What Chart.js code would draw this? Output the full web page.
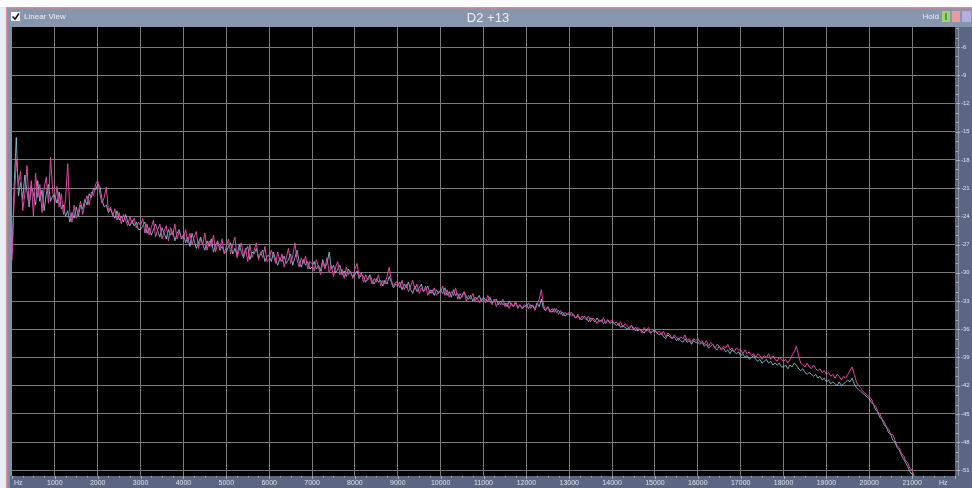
<!DOCTYPE html>
<html>
<head>
<meta charset="utf-8">
<script src="https://cdn.jsdelivr.net/npm/chart.js@4/dist/chart.umd.min.js"></script>
<style>
  html, body { margin: 0; padding: 0; background: #e4ebf3; overflow: hidden; }
  canvas { display: block; }
</style>
</head>
<body>
<canvas id="spectrum" width="972" height="488"></canvas>
<script>
// Frequency analysis: two channels, level in dB per 50 Hz FFT bin.
const TITLE = 'D2 +13';
const BIN_HZ = 50;
const X_TICKS = [1000, 2000, 3000, 4000, 5000, 6000, 7000, 8000, 9000, 10000,
                 11000, 12000, 13000, 14000, 15000, 16000, 17000, 18000, 19000, 20000, 21000];
const Y_TICKS = [-6, -9, -12, -15, -18, -21, -24, -27, -30, -33, -36, -39, -42, -45, -48, -51];

// Magenta channel (dB); one row per kHz, 20 bins each
const MAGENTA_DB = [
  -28.7, -22.4, -18.0, -20.6, -19.2, -23.4, -21.6, -18.6, -22.8, -20.2, -24.0, -19.4, -22.0, -20.6, -23.6, -21.0, -19.8, -22.6, -17.7, -21.4,
  -22.6, -20.8, -23.0, -21.6, -23.8, -22.2, -18.4, -23.6, -24.6, -22.8, -24.2, -23.4, -22.4, -23.8, -22.6, -21.8, -22.8, -21.4, -21.8, -20.6,
  -20.2, -21.6, -22.6, -22.0, -20.9, -23.4, -23.0, -24.0, -23.2, -24.4, -23.6, -24.8, -23.8, -24.4, -25.0, -24.0, -24.8, -24.2, -25.2, -24.6,
  -25.0, -24.2, -25.8, -24.8, -26.0, -25.2, -24.4, -26.2, -25.4, -24.8, -26.4, -25.6, -25.0, -26.6, -25.2, -26.0, -24.8, -26.4, -25.6, -26.2,
  -26.4, -25.4, -26.8, -25.8, -27.0, -26.2, -25.6, -27.4, -26.4, -27.0, -25.8, -27.6, -26.6, -27.2, -26.0, -27.8, -26.8, -27.4, -26.4, -28.0,
  -27.2, -26.4, -28.0, -27.0, -26.2, -28.4, -27.6, -26.8, -28.2, -27.4, -28.8, -27.0, -28.4, -27.6, -26.8, -28.6, -27.8, -28.4, -27.2, -28.8,
  -28.6, -27.6, -28.2, -29.0, -27.8, -28.8, -28.0, -29.4, -28.4, -27.4, -29.0, -28.2, -26.8, -28.6, -29.4, -28.4, -29.0, -28.2, -29.6, -28.8,
  -29.0, -29.8, -28.6, -29.4, -30.2, -28.8, -29.6, -28.4, -30.0, -29.2, -30.4, -29.4, -28.8, -30.2, -29.6, -30.6, -29.4, -30.2, -29.8, -30.6,
  -29.6, -29.0, -30.4, -30.0, -31.0, -30.2, -30.8, -30.4, -31.2, -30.6, -31.0, -30.2, -31.4, -30.8, -31.2, -30.4, -29.4, -30.8, -31.4, -31.0,
  -31.0, -31.6, -30.8, -31.8, -31.2, -32.0, -31.4, -30.8, -31.8, -31.2, -32.2, -31.6, -32.0, -31.4, -32.4, -31.8, -32.2, -31.6, -32.4, -32.0,
  -32.0, -31.4, -32.4, -31.8, -32.6, -32.0, -32.4, -31.6, -32.8, -32.2, -32.6, -32.0, -33.0, -32.4, -32.8, -32.2, -33.0, -32.6, -33.2, -32.8,
  -32.8, -33.2, -32.4, -33.0, -33.4, -32.8, -33.6, -33.0, -33.4, -32.8, -33.6, -33.2, -33.8, -33.2, -33.6, -33.0, -33.8, -33.4, -33.8, -33.4,
  -33.6, -33.2, -33.8, -33.4, -34.0, -33.4, -32.8, -31.8, -33.4, -34.0, -33.6, -34.2, -33.8, -34.2, -33.8, -34.4, -34.0, -34.6, -34.2, -34.4,
  -34.2, -34.6, -34.4, -34.8, -34.4, -35.0, -34.6, -34.8, -35.0, -34.6, -35.2, -34.8, -35.0, -35.4, -35.0, -35.2, -34.8, -35.4, -35.0, -35.2,
  -35.0, -35.4, -35.2, -35.6, -35.2, -35.8, -35.4, -35.6, -36.0, -35.6, -35.8, -36.2, -35.8, -36.0, -36.4, -35.8, -36.2, -35.8, -36.4, -36.2,
  -36.0, -36.4, -36.2, -36.6, -36.2, -36.8, -36.4, -36.6, -37.0, -36.6, -36.8, -37.2, -36.8, -37.0, -36.6, -37.2, -37.0, -37.4, -37.0, -37.2,
  -37.0, -37.4, -37.2, -37.6, -37.2, -37.8, -37.4, -37.6, -38.0, -37.6, -37.8, -38.2, -37.8, -38.0, -37.6, -38.2, -38.0, -38.4, -38.0, -38.2,
  -38.2, -38.6, -38.2, -38.6, -38.4, -38.8, -38.6, -39.0, -38.6, -38.8, -39.2, -38.8, -39.0, -38.6, -39.2, -38.8, -39.2, -39.4, -39.0, -39.2,
  -39.4, -39.2, -39.6, -39.2, -38.8, -38.4, -37.8, -38.8, -39.6, -39.8, -40.0, -39.6, -40.0, -40.2, -39.8, -40.2, -40.4, -40.2, -40.6, -40.4,
  -40.8, -40.6, -41.0, -40.8, -41.2, -40.8, -41.0, -41.4, -41.0, -41.2, -40.8, -40.4, -40.0, -40.8, -41.6, -42.0, -42.2, -42.6, -42.8, -43.0,
  -43.2, -43.4, -44.0, -44.2, -44.8, -45.0, -45.6, -45.8, -46.4, -46.6, -47.2, -47.2, -47.8, -48.4, -48.6, -49.2, -49.4, -50.0, -50.2, -50.8,
  -51.0, -51.6, -52.0, -52.6, -53.0, -53.6, -54.0, -54.6, -55.0, -55.6
];

// Cyan channel (dB); one row per kHz, 20 bins each
const CYAN_DB = [
  -28.0, -20.8, -15.6, -21.8, -20.4, -22.2, -19.6, -21.4, -23.0, -20.8, -21.6, -22.8, -20.2, -22.4, -21.2, -23.4, -21.6, -20.6, -22.4, -21.8,
  -21.8, -22.6, -21.4, -23.2, -22.8, -24.0, -23.4, -24.6, -23.6, -24.2, -23.0, -24.0, -22.8, -23.2, -22.2, -22.8, -21.6, -22.0, -21.0, -21.2,
  -20.6, -20.8, -22.2, -23.0, -22.8, -23.6, -23.2, -23.8, -24.2, -23.4, -24.4, -24.0, -24.6, -23.8, -24.6, -25.0, -24.4, -25.0, -24.6, -25.4,
  -25.4, -25.0, -24.6, -25.8, -25.2, -26.0, -25.4, -24.8, -25.6, -26.2, -25.2, -25.8, -26.4, -25.4, -26.0, -25.6, -26.6, -25.8, -25.4, -26.4,
  -26.0, -26.8, -26.2, -27.2, -25.8, -26.6, -27.4, -26.8, -26.2, -27.0, -27.6, -26.6, -27.2, -26.4, -27.8, -27.0, -26.6, -27.6, -27.2, -27.8,
  -27.8, -27.2, -26.8, -28.0, -27.4, -28.2, -27.0, -27.8, -28.4, -27.6, -27.2, -28.6, -27.8, -28.0, -27.4, -28.4, -28.0, -27.6, -28.8, -28.2,
  -28.2, -28.8, -27.8, -28.6, -29.2, -28.4, -28.8, -28.2, -29.0, -28.6, -28.0, -29.2, -28.4, -27.6, -28.8, -29.4, -28.6, -29.2, -28.8, -29.6,
  -29.4, -28.8, -29.6, -29.2, -29.8, -28.6, -29.4, -29.0, -27.8, -29.6, -29.2, -30.0, -29.6, -29.2, -30.2, -29.8, -30.4, -29.6, -30.0, -30.4,
  -30.2, -29.8, -30.6, -30.2, -30.4, -31.0, -30.6, -30.2, -30.8, -31.2, -30.6, -31.0, -30.8, -31.4, -30.8, -31.2, -30.4, -31.0, -31.6, -31.2,
  -31.4, -31.0, -31.8, -31.2, -31.6, -31.0, -31.8, -32.2, -31.4, -32.0, -31.6, -31.2, -32.0, -31.8, -31.4, -32.2, -31.8, -32.4, -31.8, -32.2,
  -31.8, -32.2, -31.6, -32.4, -32.0, -32.6, -31.8, -32.4, -32.2, -32.8, -32.4, -32.0, -32.6, -32.8, -32.4, -33.0, -32.6, -32.8, -32.4, -33.0,
  -32.6, -32.9, -33.0, -32.6, -33.2, -33.0, -32.8, -33.4, -33.0, -33.4, -33.2, -33.6, -33.0, -33.4, -33.6, -33.2, -33.6, -33.4, -33.8, -33.6,
  -33.4, -33.8, -33.4, -33.6, -33.8, -33.2, -33.6, -32.8, -33.8, -34.0, -33.6, -34.0, -34.2, -33.8, -34.2, -34.0, -34.4, -34.2, -34.6, -34.4,
  -34.4, -34.2, -34.6, -34.8, -34.6, -34.8, -35.0, -34.6, -34.8, -35.2, -34.8, -35.0, -35.2, -34.8, -35.2, -35.0, -35.4, -35.2, -35.0, -35.4,
  -35.2, -35.4, -35.6, -35.4, -35.8, -35.6, -35.8, -36.0, -35.8, -35.6, -36.0, -35.8, -36.2, -36.0, -36.2, -36.4, -36.0, -36.2, -36.4, -36.2,
  -36.2, -36.4, -36.6, -36.4, -36.8, -37.0, -36.6, -36.8, -37.0, -36.8, -37.2, -37.0, -37.2, -37.4, -37.0, -37.4, -37.2, -37.6, -37.2, -37.4,
  -37.4, -37.6, -37.4, -37.8, -37.6, -38.0, -37.8, -37.6, -38.0, -38.2, -37.8, -38.2, -38.0, -38.4, -38.2, -38.6, -38.2, -38.4, -38.6, -38.4,
  -38.8, -38.6, -39.0, -38.8, -39.2, -39.0, -38.8, -39.2, -39.4, -39.2, -39.6, -39.4, -39.2, -39.6, -39.4, -39.8, -39.6, -39.8, -39.6, -40.0,
  -40.0, -39.8, -40.2, -39.8, -40.0, -39.6, -39.8, -40.2, -40.4, -40.2, -40.6, -40.8, -40.6, -40.8, -41.0, -40.8, -41.2, -41.0, -41.4, -41.2,
  -41.6, -41.4, -41.8, -41.6, -41.8, -42.0, -41.6, -42.0, -41.8, -41.6, -41.4, -41.6, -41.2, -41.8, -42.2, -42.4, -42.6, -42.8, -43.0, -43.2,
  -43.4, -43.8, -44.0, -44.6, -44.8, -45.4, -45.6, -46.2, -46.4, -47.0, -47.2, -47.8, -48.0, -48.6, -48.8, -49.4, -49.8, -50.2, -50.6, -51.2,
  -51.4, -51.8, -52.4, -52.8, -53.4, -53.8, -54.4, -54.8, -55.4, -55.8
];

const toPoints = arr => arr.map((db, i) => ({ x: i * BIN_HZ, y: db }));

const UI_FONT = '"Liberation Sans", Arial, sans-serif';

// Window chrome: title bar, checkbox, hold buttons, axis strips, black plot field.
const analyzerFrame = {
  id: 'analyzerFrame',
  beforeDraw(chart) {
    const { ctx, chartArea: a, width: W, height: H } = chart;
    ctx.save();
    ctx.fillStyle = '#e6edf5';
    ctx.fillRect(0, 0, W, H);
    ctx.fillStyle = '#fdfdfe';
    ctx.fillRect(0, 0, W, 7);
    // window body
    ctx.fillStyle = '#838fa6';
    ctx.fillRect(7, 8, W - 7, H - 8);
    // focus border
    ctx.fillStyle = '#d98c98';
    ctx.fillRect(6, 7, W - 6, 1.5);
    ctx.fillRect(6, 7, 1.5, H - 7);
    // title bar
    ctx.fillStyle = '#8896ad';
    ctx.fillRect(8, 9, W - 8, a.top - 9);
    // axis strips
    ctx.fillStyle = '#5a6682';
    ctx.fillRect(a.left - 2, a.bottom, W - a.left + 2, H - a.bottom);
    ctx.fillRect(a.right, a.top, W - a.right, H - a.top);
    ctx.fillStyle = '#8a93a8';
    ctx.fillRect(a.right + 3, a.top, 1, a.bottom - a.top);
    // plot field
    ctx.fillStyle = '#000000';
    ctx.fillRect(a.left, a.top, a.right - a.left, a.bottom - a.top);

    // checkbox + caption
    ctx.fillStyle = '#ffffff';
    ctx.fillRect(11, 12, 9, 9);
    ctx.strokeStyle = '#111111';
    ctx.lineWidth = 1.6;
    ctx.beginPath();
    ctx.moveTo(12.5, 16.5); ctx.lineTo(15, 19); ctx.lineTo(19, 13.5);
    ctx.stroke();
    ctx.fillStyle = '#e9edf4';
    ctx.font = '8px ' + UI_FONT;
    ctx.textBaseline = 'middle';
    ctx.textAlign = 'left';
    ctx.fillText('Linear View', 24, 17);

    // title
    ctx.font = '13px ' + UI_FONT;
    ctx.textAlign = 'center';
    ctx.fillStyle = '#eef1f6';
    ctx.fillText(TITLE, 488, 18);

    // hold + buttons
    ctx.font = '8px ' + UI_FONT;
    ctx.textAlign = 'right';
    ctx.fillStyle = '#e9edf4';
    ctx.fillText('Hold', 939, 17);
    ctx.fillStyle = '#9ed56f'; ctx.fillRect(942, 11, 8, 11);
    ctx.fillStyle = '#5e9a3c'; ctx.fillRect(945, 13, 2, 7);
    ctx.fillStyle = '#e99ba3'; ctx.fillRect(952, 11, 8, 11);
    ctx.fillStyle = '#b4ade2'; ctx.fillRect(962, 11, 9, 11);
    ctx.restore();
  },
  afterDraw(chart) {
    const { ctx, chartArea: a, scales } = chart;
    ctx.save();
    // minor ticks along the frequency strip
    ctx.fillStyle = '#a7afc2';
    for (let f = 0; f <= 22000; f += 250) {
      const x = Math.round(scales.x.getPixelForValue(f));
      const len = f % 1000 === 0 ? 3 : 1.5;
      ctx.fillRect(x, a.bottom, 1, len);
    }
    // minor ticks along the level strip
    for (let d = -51; d <= -4; d += 1) {
      const y = Math.round(scales.y.getPixelForValue(d));
      const len = d % 3 === 0 ? 4 : 2;
      ctx.fillRect(a.right + 1, y, len, 1);
    }
    // unit captions
    ctx.fillStyle = '#dde2ec';
    ctx.font = '7px ' + UI_FONT;
    ctx.textBaseline = 'middle';
    ctx.textAlign = 'left';
    ctx.fillText('Hz', a.left + 2, 483);
    ctx.fillText('Hz', 939, 483);
    ctx.restore();
  }
};

new Chart(document.getElementById('spectrum'), {
  type: 'line',
  data: {
    datasets: [
      {
        label: 'Magenta',
        data: toPoints(MAGENTA_DB),
        borderColor: '#e2479f',
        borderWidth: 1,
        pointRadius: 0,
        tension: 0
      },
      {
        label: 'Cyan',
        data: toPoints(CYAN_DB),
        borderColor: 'rgba(140, 214, 232, 0.8)',
        borderWidth: 1,
        pointRadius: 0,
        tension: 0
      }
    ]
  },
  options: {
    responsive: false,
    animation: false,
    devicePixelRatio: 1,
    layout: { padding: { left: 12, top: 27, right: 0, bottom: 0 } },
    plugins: { legend: { display: false }, tooltip: { enabled: false } },
    scales: {
      x: {
        type: 'linear',
        min: 0,
        max: 22000,
        afterBuildTicks: s => { s.ticks = X_TICKS.map(v => ({ value: v })); },
        afterFit: s => { s.height = 12; },
        grid: { color: '#7b7b7b', lineWidth: 1, drawTicks: false },
        border: { display: false },
        ticks: {
          autoSkip: false,
          maxRotation: 0,
          padding: 3,
          color: '#dde2ec',
          font: { size: 7, family: UI_FONT },
          callback: v => String(v)
        }
      },
      y: {
        type: 'linear',
        position: 'right',
        min: -51.6,
        max: -3.87,
        afterBuildTicks: s => { s.ticks = Y_TICKS.map(v => ({ value: v })); },
        afterFit: s => { s.width = 17; },
        grid: { color: '#7b7b7b', lineWidth: 1, drawTicks: false },
        border: { display: false },
        ticks: {
          padding: 6,
          color: '#dde2ec',
          font: { size: 6, family: UI_FONT },
          callback: v => String(v)
        }
      }
    }
  },
  plugins: [analyzerFrame]
});
</script>
</body>
</html>
